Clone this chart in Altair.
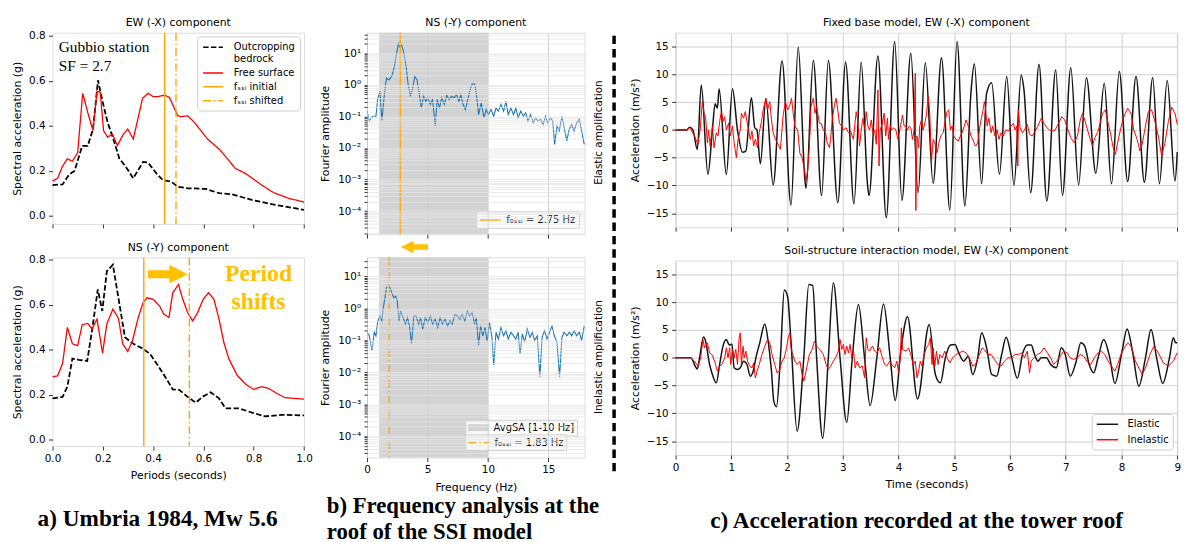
import altair as alt
import pandas as pd

FONT = "DejaVu Sans"
SERIF = "Liberation Serif"
GOLD = "#FFC000"
ORANGE = "#FFA500"

# ---------------- (a) response spectra, Gubbio station (period s, SA g) ----------------
period_ticks = [0.0, 0.2, 0.4, 0.6, 0.8, 1.0]
sa_ticks = [0.0, 0.2, 0.4, 0.6, 0.8]
spectra_names = ["Outcropping bedrock", "Free surface", "fₛₛᵢ initial", "fₛₛᵢ shifted"]

ew_bedrock = [[0, 0.136], [0.04, 0.139], [0.066, 0.183], [0.088, 0.20], [0.118, 0.31], [0.14, 0.31],
              [0.161, 0.385], [0.181, 0.602], [0.197, 0.517], [0.219, 0.415], [0.242, 0.34], [0.266, 0.253],
              [0.292, 0.217], [0.321, 0.166], [0.36, 0.239], [0.38, 0.236], [0.413, 0.188], [0.439, 0.158],
              [0.472, 0.151], [0.498, 0.129], [0.537, 0.122], [0.609, 0.119], [0.662, 0.10], [0.714, 0.095],
              [0.793, 0.07], [0.872, 0.051], [1.0, 0.026]]
ew_surface = [[0, 0.154], [0.02, 0.166], [0.04, 0.22], [0.059, 0.253], [0.079, 0.242], [0.10, 0.28],
              [0.12, 0.544], [0.14, 0.459], [0.161, 0.378], [0.177, 0.554], [0.19, 0.547], [0.203, 0.378],
              [0.219, 0.349], [0.238, 0.363], [0.258, 0.312], [0.282, 0.363], [0.299, 0.385], [0.321, 0.341],
              [0.341, 0.437], [0.358, 0.522], [0.38, 0.544], [0.40, 0.529], [0.419, 0.529], [0.446, 0.536],
              [0.465, 0.525], [0.498, 0.444], [0.511, 0.44], [0.537, 0.444], [0.564, 0.415], [0.616, 0.341],
              [0.668, 0.29], [0.727, 0.21], [0.767, 0.188], [0.832, 0.136], [0.878, 0.103], [0.937, 0.078],
              [1.0, 0.06]]
ns_bedrock = [[0, 0.183], [0.04, 0.19], [0.059, 0.235], [0.079, 0.36], [0.105, 0.355], [0.138, 0.35],
              [0.157, 0.484], [0.18, 0.668], [0.198, 0.572], [0.216, 0.749], [0.24, 0.778], [0.262, 0.631],
              [0.288, 0.455], [0.321, 0.426], [0.36, 0.404], [0.387, 0.382], [0.419, 0.33], [0.452, 0.272],
              [0.478, 0.223], [0.505, 0.22], [0.537, 0.19], [0.57, 0.164], [0.596, 0.19], [0.629, 0.21],
              [0.662, 0.183], [0.688, 0.139], [0.74, 0.139], [0.793, 0.12], [0.845, 0.103], [0.911, 0.11],
              [1.0, 0.107]]
ns_surface = [[0, 0.279], [0.02, 0.283], [0.04, 0.338], [0.059, 0.499], [0.079, 0.426], [0.10, 0.418],
              [0.118, 0.511], [0.14, 0.517], [0.157, 0.492], [0.177, 0.536], [0.199, 0.385], [0.216, 0.514],
              [0.24, 0.58], [0.262, 0.54], [0.279, 0.426], [0.299, 0.392], [0.318, 0.44], [0.341, 0.543],
              [0.36, 0.609], [0.376, 0.631], [0.40, 0.624], [0.426, 0.594], [0.442, 0.558], [0.463, 0.543],
              [0.478, 0.653], [0.501, 0.69], [0.518, 0.624], [0.537, 0.565], [0.557, 0.528], [0.577, 0.565],
              [0.599, 0.624], [0.62, 0.653], [0.642, 0.624], [0.662, 0.536], [0.681, 0.433], [0.701, 0.36],
              [0.734, 0.286], [0.767, 0.247], [0.799, 0.223], [0.832, 0.235], [0.858, 0.228], [0.891, 0.206],
              [0.924, 0.186], [1.0, 0.18]]
fssi_ew = [0.446, 0.491]   # initial, shifted
fssi_ns = [0.363, 0.544]
site_text = ["Gubbio station", "SF = 2.7"]
shift_text = ["Period", "shifts"]

# ---------------- (b) Fourier amplitude spectra at the roof (Hz, amplitude) ----------------
freq_ticks = [0, 5, 10, 15]
avgsa_band = [1.0, 10.0]
f0ssi_elastic = 2.75
f0ssi_inelastic = 1.83
fas_elastic = [[0, 0.148], [0.19, 0.072], [0.46, 0.102], [0.74, 0.102], [0.87, 0.347], [1.06, 0.631],
               [1.23, 0.072], [1.42, 0.437], [1.61, 1.66], [1.82, 1.45], [2.04, 1.86], [2.23, 3.39],
               [2.42, 8.9], [2.59, 20.4], [2.70, 16.2], [2.86, 19.1], [3.05, 10.0], [3.24, 3.8], [3.40, 1.02],
               [3.59, 0.437], [3.78, 0.794], [3.95, 1.86], [4.14, 1.45], [4.33, 0.49], [4.49, 0.186],
               [4.68, 0.437], [4.87, 0.302], [5.04, 0.389], [5.23, 0.24], [5.42, 0.347], [5.64, 0.05],
               [5.80, 0.347], [5.99, 0.186], [6.18, 0.389], [6.40, 0.24], [6.59, 0.49], [6.78, 0.347],
               [7.00, 0.437], [7.19, 0.389], [7.41, 0.49], [7.60, 0.302], [7.76, 0.49], [7.95, 0.24],
               [8.14, 0.166], [8.30, 0.302], [8.49, 0.631], [8.69, 1.07], [8.90, 1.07], [9.04, 0.55],
               [9.23, 0.115], [9.45, 0.269], [9.67, 0.091], [9.86, 0.166], [10.05, 0.115], [10.26, 0.166],
               [10.48, 0.102], [10.67, 0.186], [10.86, 0.148], [11.08, 0.24], [11.30, 0.148], [11.49, 0.302],
               [11.68, 0.115], [11.90, 0.186], [12.12, 0.115], [12.31, 0.186], [12.50, 0.091], [12.71, 0.148],
               [12.93, 0.102], [13.12, 0.132], [13.31, 0.072], [13.53, 0.115], [13.75, 0.063], [13.94, 0.091],
               [14.13, 0.072], [14.35, 0.081], [14.57, 0.056], [14.76, 0.102], [14.95, 0.063], [15.17, 0.091],
               [15.36, 0.072], [15.52, 0.013], [15.71, 0.05], [15.90, 0.035], [16.12, 0.102], [16.31, 0.044],
               [16.53, 0.017], [16.72, 0.039], [16.93, 0.056], [17.13, 0.035], [17.34, 0.063], [17.56, 0.081],
               [17.75, 0.035], [17.97, 0.013]]
fas_inelastic = [[0, 0.178], [0.19, 0.138], [0.41, 0.048], [0.6, 0.178], [0.74, 0.138], [0.87, 0.363],
                 [1.06, 0.575], [1.23, 0.407], [1.33, 0.933], [1.5, 2.4], [1.61, 4.68], [1.82, 4.9],
                 [1.96, 3.89], [2.1, 2.69], [2.23, 2.14], [2.37, 2.4], [2.5, 1.7], [2.64, 0.407], [2.78, 0.832],
                 [2.97, 0.513], [3.19, 0.324], [3.35, 0.513], [3.51, 0.282], [3.68, 0.078], [3.87, 0.575],
                 [4.06, 0.575], [4.27, 0.324], [4.44, 0.513], [4.6, 0.224], [4.82, 0.513], [5.04, 0.363],
                 [5.23, 0.575], [5.42, 0.324], [5.64, 0.457], [5.85, 0.251], [6.04, 0.513], [6.23, 0.324],
                 [6.45, 0.457], [6.67, 0.282], [6.86, 0.407], [7.05, 0.324], [7.27, 0.646], [7.49, 0.575],
                 [7.68, 0.457], [7.87, 0.646], [8.09, 0.407], [8.3, 0.832], [8.49, 0.575], [8.69, 0.741],
                 [8.9, 0.324], [9.04, 0.513], [9.23, 0.069], [9.39, 0.282], [9.58, 0.138], [9.77, 0.251],
                 [9.94, 0.087], [10.13, 0.363], [10.32, 0.138], [10.48, 0.017], [10.67, 0.178], [10.86, 0.11],
                 [11.08, 0.251], [11.3, 0.138], [11.49, 0.2], [11.68, 0.11], [11.9, 0.178], [12.12, 0.138],
                 [12.31, 0.11], [12.5, 0.178], [12.66, 0.038], [12.85, 0.158], [13.04, 0.087], [13.26, 0.224],
                 [13.48, 0.123], [13.67, 0.178], [13.86, 0.098], [14.08, 0.138], [14.3, 0.0072], [14.48, 0.123],
                 [14.68, 0.2], [14.89, 0.11], [15.11, 0.178], [15.3, 0.282], [15.49, 0.138], [15.71, 0.087],
                 [15.93, 0.0072], [16.12, 0.123], [16.31, 0.178], [16.53, 0.138], [16.74, 0.178], [16.93, 0.138],
                 [17.13, 0.2], [17.34, 0.138], [17.56, 0.178], [17.75, 0.098], [17.97, 0.282]]

# ---------------- (c) roof acceleration time histories (s, m/s2) ----------------
time_ticks = [0, 1, 2, 3, 4, 5, 6, 7, 8, 9]
acc_ticks = [-15, -10, -5, 0, 5, 10, 15]
fixed_elastic = [[0, 0], [0.2, 0], [0.25, 0.5], [0.31, 0], [0.39, -3.5], [0.46, 8.1], [0.58, -8.0], [0.66, 0],
                 [0.71, 4.7], [0.75, 3.9], [0.78, 7.4], [0.91, -8.0], [1.02, 7.4], [1.11, 0], [1.2, -4.0],
                 [1.26, -3.8], [1.36, 5.8], [1.42, 0.4], [1.46, 0], [1.52, -6.1], [1.62, 5.6], [1.75, -9.9],
                 [1.91, 12.4], [2.07, -13.5], [2.2, 14.9], [2.32, -9.0], [2.34, -10.5], [2.47, 12.5],
                 [2.62, -11.8], [2.74, 12.5], [2.91, -13.1], [3.05, 12.2], [3.2, -13.3], [3.33, 12.2],
                 [3.44, -9.5], [3.47, -11.8], [3.63, 13.3], [3.78, -15.8], [3.93, 15.9], [4.06, -12.7],
                 [4.22, 13.8], [4.35, -11.3], [4.48, 12.1], [4.62, -9.6], [4.77, 13.0], [4.92, -14.4],
                 [5.05, 15.9], [5.19, -13.7], [5.3, 6.9], [5.36, 11.9], [5.49, -9.7], [5.58, 6.6], [5.67, 8.5],
                 [5.81, -8.0], [5.94, 9.6], [6.07, -10.0], [6.2, 9.9], [6.25, 7.2], [6.37, -11.3], [6.52, 11.8],
                 [6.66, -12.8], [6.82, 10.8], [6.94, -11.8], [7.09, 11.2], [7.23, -9.9], [7.37, 9.4],
                 [7.54, -7.8], [7.69, 8.4], [7.82, -9.7], [7.96, 10.5], [8.11, -9.3], [8.26, 9.6], [8.41, -9.4],
                 [8.56, 9.4], [8.68, -9.7], [8.82, 8.9], [8.96, -9.2], [9.0, -4.0]]
fixed_inelastic = [[0, 0], [0.2, 0], [0.25, 0.5], [0.34, -1.1], [0.4, -2.6], [0.44, 0], [0.48, 5.1], [0.51, 3.0],
                   [0.54, 2.1], [0.57, -2.3], [0.59, 0], [0.62, -2.9], [0.66, 0.7], [0.69, -3.2], [0.73, -0.5],
                   [0.76, -1.1], [0.79, 1.5], [0.82, 3.3], [0.85, 1.5], [0.88, 2.4], [0.91, 0], [0.95, 1.2],
                   [0.98, -1.1], [1.02, 0.7], [1.05, -2.3], [1.09, -5.0], [1.12, -1.7], [1.16, 0], [1.18, 3.0],
                   [1.22, 2.1], [1.25, 3.3], [1.28, 1.5], [1.31, 0], [1.34, -1.7], [1.37, -0.2], [1.4, -2.9],
                   [1.43, -1.7], [1.47, -3.2], [1.5, -0.5], [1.54, 1.5], [1.57, 3.6], [1.62, 5.7], [1.65, 3.6],
                   [1.69, 5.1], [1.72, 1.8], [1.75, -0.5], [1.79, -1.7], [1.84, -2.6], [1.88, -3.5], [1.93, 2.7],
                   [1.97, 5.1], [2.01, 3.6], [2.05, 4.5], [2.08, 5.7], [2.11, 3.0], [2.14, 0.7], [2.19, 0],
                   [2.23, -4.2], [2.27, -5.0], [2.31, -7.1], [2.34, -9.2], [2.37, -7.1], [2.4, -2.9], [2.43, 4.2],
                   [2.47, 5.7], [2.5, 3.0], [2.53, 4.2], [2.58, 1.2], [2.61, 1.2], [2.65, 0], [2.69, -0.5],
                   [2.72, -2.3], [2.76, -3.2], [2.78, -1.7], [2.81, 1.8], [2.85, 4.5], [2.88, 5.7], [2.91, 3.6],
                   [2.94, 1.2], [2.98, 0.7], [3.01, 0], [3.06, 0.4], [3.1, -0.5], [3.14, -0.2], [3.19, -1.7],
                   [3.21, 0.4], [3.24, 3.3], [3.27, 1.5], [3.3, -2.9], [3.33, 0], [3.36, 2.1], [3.39, 0],
                   [3.42, 3.3], [3.45, 0.7], [3.48, 0], [3.51, 1.8], [3.54, -0.5], [3.57, 0], [3.6, -2.6],
                   [3.63, 7.2], [3.65, -6.5], [3.67, 0], [3.71, 1.2], [3.74, 3.0], [3.77, -1.1], [3.8, 2.1],
                   [3.82, -1.7], [3.85, 0.7], [3.88, 0], [3.91, 0.4], [3.95, 0], [3.99, -1.7], [4.03, 0.4],
                   [4.07, 2.7], [4.1, 0.7], [4.13, 0.7], [4.16, 0], [4.19, 0.7], [4.22, 0.4], [4.25, -1.7],
                   [4.28, 0], [4.3, 10.2], [4.31, -14.5], [4.33, -1.1], [4.36, -3.2], [4.38, 0.7], [4.41, 1.8],
                   [4.44, 0], [4.47, 1.2], [4.5, 2.7], [4.53, 6.0], [4.56, 3.0], [4.59, -5.9], [4.62, -1.7],
                   [4.65, -2.3], [4.69, -4.1], [4.73, -2.0], [4.77, -0.8], [4.8, -0.5], [4.84, 1.8], [4.87, 3.3],
                   [4.9, 3.6], [4.93, 0], [4.96, 0.7], [4.99, -1.1], [5.03, -1.7], [5.07, -2.0], [5.11, -1.1],
                   [5.14, -0.5], [5.18, 0.7], [5.21, 1.8], [5.26, 0.4], [5.3, -1.1], [5.33, -1.7], [5.38, -2.9],
                   [5.42, -2.3], [5.46, 0.7], [5.51, 3.3], [5.54, 5.1], [5.56, 3.9], [5.59, 0.7], [5.62, 2.1],
                   [5.66, -0.5], [5.69, 0.7], [5.73, -1.1], [5.77, 0], [5.8, -1.7], [5.84, -0.5], [5.88, -1.1],
                   [5.92, 0], [5.97, -0.2], [6.02, 0.7], [6.06, 1.2], [6.09, 0], [6.12, 0.7], [6.14, -6.5],
                   [6.15, 3.6], [6.18, 0.4], [6.22, -0.5], [6.26, 0], [6.31, 1.0], [6.35, -0.8], [6.4, -1.1],
                   [6.45, -0.2], [6.5, 0.7], [6.56, 2.1], [6.61, 1.2], [6.66, 0.4], [6.71, 0], [6.77, -0.2],
                   [6.81, 0], [6.87, 1.2], [6.93, 2.4], [6.98, 1.8], [7.04, 0], [7.09, -1.4], [7.15, -2.3],
                   [7.21, -1.1], [7.26, 1.8], [7.3, 3.0], [7.34, 1.8], [7.39, 0], [7.44, -1.7], [7.48, -2.9],
                   [7.52, -1.4], [7.57, -0.5], [7.61, 1.0], [7.66, 3.0], [7.71, 3.6], [7.76, 1.2], [7.8, -0.5],
                   [7.85, -3.2], [7.89, -4.4], [7.93, -2.3], [7.98, 0], [8.03, 2.1], [8.07, 3.0], [8.11, 3.9],
                   [8.17, 3.0], [8.22, 0], [8.28, -1.7], [8.33, -3.8], [8.37, -2.6], [8.43, 0.7], [8.48, 3.3],
                   [8.54, 3.6], [8.6, 1.5], [8.66, -1.1], [8.72, -4.7], [8.78, -2.3], [8.84, 1.5], [8.9, 4.1],
                   [8.96, 3.0], [9.0, 1.0]]
ssi_elastic = [[0, 0], [0.27, 0], [0.39, -2.0], [0.43, 0], [0.5, 3.75], [0.53, 3.3], [0.61, -1.2], [0.67, -3.3],
               [0.73, -4.5], [0.79, -1.2], [0.85, 2.1], [0.91, 3.3], [0.95, 2.5], [0.98, 2.3], [1.01, 2.5],
               [1.05, -1.8], [1.11, -2.1], [1.16, -1.8], [1.22, -0.6], [1.28, -1.2], [1.34, -3.3], [1.4, -2.1],
               [1.44, 0], [1.51, 2.7], [1.6, 6.1], [1.66, 3.0], [1.72, -2.4], [1.76, -7.7], [1.81, -8.8],
               [1.88, 0], [1.95, 12.2], [2.01, 11.0], [2.07, 3.0], [2.18, -13.2], [2.3, 0], [2.39, 13.2],
               [2.46, 13.0], [2.53, 0], [2.64, -14.5], [2.74, 0], [2.83, 13.5], [2.95, 0], [3.07, -11.6],
               [3.17, 0], [3.28, 9.6], [3.39, 0], [3.49, -8.6], [3.61, 0], [3.73, 9.7], [3.85, 0], [3.94, -7.7],
               [4.04, 1.2], [4.16, 7.4], [4.34, -7.4], [4.55, 6.0], [4.66, -3.0], [4.75, -4.5], [4.84, 0],
               [4.93, 2.3], [5.01, 2.4], [5.08, 0.9], [5.17, -0.6], [5.25, 0.3], [5.33, -3.0], [5.42, 0],
               [5.49, 4.5], [5.58, 1.8], [5.67, -3.0], [5.76, -3.3], [5.85, 0.6], [5.93, 3.7], [6.03, 0],
               [6.13, -3.7], [6.23, 0.9], [6.31, 2.3], [6.38, 2.3], [6.44, 0.6], [6.5, -0.6], [6.56, 0],
               [6.65, 0], [6.73, -1.2], [6.83, -1.8], [6.92, 1.8], [6.99, 0.6], [7.08, -3.3], [7.18, -0.9],
               [7.27, 2.7], [7.34, 2.1], [7.42, -1.2], [7.5, -2.7], [7.58, 0], [7.68, 3.3], [7.79, 0],
               [7.88, -4.6], [8.01, 1.2], [8.1, 5.2], [8.2, 1.0], [8.31, -5.1], [8.43, 0], [8.53, 5.1],
               [8.63, 0], [8.74, -4.6], [8.86, 0], [8.93, 3.6], [8.97, 2.7], [9.0, 2.7]]
ssi_inelastic = [[0, 0], [0.27, 0], [0.34, -0.6], [0.4, -1.5], [0.45, 0], [0.49, 3.3], [0.52, 1.8], [0.57, 2.7],
                 [0.61, 0.9], [0.65, 0.6], [0.7, -0.6], [0.75, -2.4], [0.79, -1.5], [0.83, -1.2], [0.88, 0],
                 [0.91, 1.8], [0.94, 0], [0.97, 1.8], [0.99, -1.2], [1.02, 1.5], [1.05, 0], [1.08, 1.5],
                 [1.11, -1.2], [1.14, 3.6], [1.16, 4.5], [1.18, -1.2], [1.21, 2.1], [1.23, 0], [1.26, 1.2],
                 [1.29, -0.6], [1.33, -1.5], [1.37, -1.8], [1.4, -0.9], [1.43, -3.6], [1.46, -2.4], [1.5, -1.2],
                 [1.55, 0.6], [1.6, 2.1], [1.65, 3.3], [1.69, 2.7], [1.73, 0.6], [1.78, -1.2], [1.82, -2.7],
                 [1.86, -2.4], [1.91, -0.6], [1.95, 0], [1.99, 1.8], [2.02, 3.6], [2.05, 4.5], [2.07, 1.8],
                 [2.1, 0.6], [2.14, -0.6], [2.18, -1.2], [2.23, -0.6], [2.27, -3.0], [2.3, -4.2], [2.34, -2.4],
                 [2.37, -0.9], [2.4, 0.6], [2.45, 1.5], [2.49, 3.0], [2.53, 2.1], [2.59, 1.5], [2.65, 0.6],
                 [2.7, -1.2], [2.74, -2.1], [2.78, -1.5], [2.83, -0.6], [2.87, 0], [2.92, 1.2], [2.95, 3.3],
                 [2.98, 1.5], [3.01, 2.4], [3.04, 0.6], [3.07, 2.1], [3.1, 0.9], [3.13, 2.4], [3.16, 0],
                 [3.19, 1.5], [3.22, -1.8], [3.26, -0.6], [3.3, -1.8], [3.35, -1.5], [3.39, -3.6], [3.42, 3.6],
                 [3.45, 1.5], [3.48, 1.2], [3.53, 2.1], [3.57, 1.2], [3.61, 0.9], [3.66, 1.8], [3.71, 0],
                 [3.75, -1.2], [3.79, -1.5], [3.84, -0.6], [3.88, -1.2], [3.93, -1.8], [3.97, -0.6], [4.0, -2.7],
                 [4.03, 0], [4.05, 5.4], [4.07, 1.5], [4.13, 1.2], [4.18, 1.8], [4.22, 0.6], [4.26, -1.2],
                 [4.3, -0.6], [4.33, -3.6], [4.36, -2.4], [4.39, -0.6], [4.42, -1.5], [4.46, 0.6], [4.5, 1.8],
                 [4.54, 2.4], [4.57, 3.6], [4.6, -1.2], [4.62, 1.8], [4.65, -1.5], [4.68, 1.2], [4.71, -1.2],
                 [4.74, 0.6], [4.78, 0], [4.83, 1.2], [4.87, 0], [4.92, -0.9], [4.97, 0], [5.03, 0.6],
                 [5.09, 0.9], [5.15, 1.2], [5.21, 0.9], [5.27, 0], [5.33, -1.5], [5.38, -1.2], [5.44, 0.3],
                 [5.5, 1.8], [5.54, 1.5], [5.6, 0.6], [5.66, 0.6], [5.72, -0.3], [5.78, -1.2], [5.84, -1.5],
                 [5.9, -0.6], [5.96, 0], [6.02, 0], [6.09, 0.6], [6.15, 0.6], [6.21, 0.9], [6.26, 0], [6.31, 1.2],
                 [6.35, -2.7], [6.38, -0.6], [6.43, 0], [6.49, 0.6], [6.55, 0.9], [6.61, 1.8], [6.67, 0.9],
                 [6.73, 0], [6.78, -1.2], [6.84, -0.6], [6.9, 0.3], [6.96, 1.2], [7.02, 0.9], [7.08, 0],
                 [7.14, -0.3], [7.2, 0], [7.26, 0.6], [7.32, 0.3], [7.38, -0.6], [7.45, -1.2], [7.51, 0],
                 [7.58, 0.9], [7.64, 1.2], [7.7, 0.6], [7.76, -0.6], [7.82, -1.5], [7.88, -2.4], [7.93, -1.2],
                 [7.99, 0.6], [8.05, 1.8], [8.11, 2.7], [8.17, 2.1], [8.25, -0.6], [8.37, -3.0], [8.43, -1.8],
                 [8.51, 0.6], [8.58, 2.1], [8.66, 0.9], [8.75, -0.9], [8.84, -1.5], [8.93, -0.6], [8.97, 0.3],
                 [9.0, 0.9]]
response_names = ["Elastic", "Inelastic"]

captions = ["a) Umbria 1984, Mw 5.6",
            ["b) Frequency analysis at the", "roof of the SSI model"],
            "c) Acceleration recorded at the tower roof"]

# ---------------- layout (pixels) ----------------
WA, HA1, HA2 = 254.3, 193.4, 190.7
WB, HB1, HB2 = 220.0, 203.7, 202.6
WC, HC1, HC2 = 507.2, 196.6, 196.6
ARROW_R = "M-1,-0.2L0.08,-0.2L0.08,-0.475L1,0L0.08,0.475L0.08,0.2L-1,0.2Z"
ARROW_L = "M1,-0.2L-0.05,-0.2L-0.05,-0.46L-1,0L-0.05,0.46L-0.05,0.2L1,0.2Z"
LINE_SYM = "M-1,0L3,0"
PATCH_SYM = "M-1,-0.67L3,-0.67L3,0.67L-1,0.67Z"

one = pd.DataFrame({"k": [0]})


def frame(pairs, xn, yn, **const):
    df = pd.DataFrame(pairs, columns=[xn, yn])
    for k, v in const.items():
        df[k] = v
    return df


def axis(**kw):
    base = dict(labelFont=FONT, labelFontSize=10.5, labelColor="black", labelPadding=3.5,
                tickColor="black", tickSize=4, tickWidth=0.8, domain=False, labelFlush=False,
                labelOverlap=False, titleFont=FONT, titleFontSize=11, titleFontWeight="normal",
                titleColor="black", grid=False)
    base.update(kw)
    return alt.Axis(**base)


def legend(x, y, **kw):
    base = dict(title=None, orient="none", legendX=x, legendY=y, labelFont=FONT, labelFontSize=10,
                labelColor="black", padding=4, fillColor="rgba(255,255,255,0.85)", strokeColor="#cccccc",
                cornerRadius=3, symbolType=LINE_SYM, symbolStrokeWidth=1.5, symbolSize=100,
                labelOffset=20, rowPadding=3)
    base.update(kw)
    return alt.Legend(**base)


def text(txt, x, y, **mk):
    return alt.Chart(one).mark_text(**mk).encode(x=alt.value(x), y=alt.value(y), text=alt.value(txt))


def title(txt, w):
    return text(txt, w / 2, -10, font=FONT, fontSize=11, color="black", align="center", baseline="middle")


def bound(left, top, right):
    return alt.Chart(one).mark_rule(opacity=0, strokeWidth=0.01).encode(
        x=alt.value(-left), x2=alt.value(right), y=alt.value(-top))


# ---------------- column a ----------------
xs_a = alt.Scale(domain=[0, 1], nice=False, zero=False)


def xa(labels):
    return alt.X("T:Q", scale=xs_a, axis=axis(values=period_ticks, labels=labels, format=".1f",
                                               title="Periods (seconds)" if labels else None,
                                               titleX=WA / 2, titleY=30, titleBaseline="middle"))


def ya(h, dom):
    return alt.Y("SA:Q", scale=alt.Scale(domain=dom, nice=False, zero=False),
                 axis=axis(values=sa_ticks, format=".1f", title="Spectral acceleration (g)",
                           titleAngle=270, titleX=-35.7, titleY=h / 2, titleAlign="center",
                           titleBaseline="middle"))


leg_a = legend(146.3, 3.7, padding=5, rowPadding=3,
               labelExpr="datum.label == 'Outcropping bedrock' ? ['Outcropping', 'bedrock'] : datum.label")
color_a = alt.Color("series:N", scale=alt.Scale(domain=spectra_names, range=["black", "red", ORANGE, ORANGE]),
                    legend=leg_a)
dash_a = alt.StrokeDash("series:N", scale=alt.Scale(domain=spectra_names,
                                                    range=[[5.5, 2.4], [1, 0], [1, 0], [8, 3, 1.5, 3]]),
                        legend=leg_a)

XA1, YA1 = xa(False), ya(HA1, [-0.0369, 0.8132])
a_top = alt.layer(
    alt.Chart(frame(ew_bedrock, "T", "SA", series=spectra_names[0])).mark_line(strokeWidth=1.8).encode(
        x=XA1, y=YA1, color=color_a, strokeDash=dash_a),
    alt.Chart(frame(ew_surface, "T", "SA", series=spectra_names[1])).mark_line(strokeWidth=1.3).encode(
        x=XA1, y=YA1, color=color_a, strokeDash=dash_a),
    alt.Chart(pd.DataFrame({"T": fssi_ew, "series": spectra_names[2:]})).mark_rule(strokeWidth=1.4).encode(
        x=XA1, color=color_a, strokeDash=dash_a),
    alt.Chart(pd.DataFrame({"T": [0.025, 0.025], "SA": [0.749, 0.665], "txt": site_text})).mark_text(
        font=SERIF, fontSize=15.5, align="left", baseline="middle", color="black").encode(
        x=XA1, y=YA1, text="txt:N"),
    title("EW (-X) component", WA),
    bound(43.7, 21.3, WA + 9),
).properties(width=WA, height=HA1)

XA2, YA2 = xa(True), ya(HA2, [-0.0295, 0.8101])
a_bot = alt.layer(
    alt.Chart(frame(ns_bedrock, "T", "SA")).mark_line(strokeWidth=1.8, color="black",
                                                       strokeDash=[5.5, 2.4]).encode(x=XA2, y=YA2),
    alt.Chart(frame(ns_surface, "T", "SA")).mark_line(strokeWidth=1.3, color="red").encode(x=XA2, y=YA2),
    alt.Chart(pd.DataFrame({"T": fssi_ns[:1]})).mark_rule(strokeWidth=1.4, color=ORANGE).encode(x=XA2),
    alt.Chart(pd.DataFrame({"T": fssi_ns[1:]})).mark_rule(strokeWidth=1.4, color=ORANGE,
                                                          strokeDash=[8, 3, 1.5, 3]).encode(x=XA2),
    alt.Chart(pd.DataFrame({"T": [0.4585], "SA": [0.736]})).mark_point(
        shape=ARROW_R, size=1600, filled=True, color=GOLD, opacity=1, strokeWidth=0).encode(x=XA2, y=YA2),
    alt.Chart(pd.DataFrame({"T": [0.819, 0.819], "SA": [0.735, 0.612], "txt": shift_text})).mark_text(
        font=SERIF, fontSize=24, fontWeight="bold", color=GOLD, align="center", baseline="middle").encode(
        x=XA2, y=YA2, text="txt:N"),
    title("NS (-Y) component", WA),
    text(captions[0], 106.3, 264, font=SERIF, fontSize=23.5, fontWeight="bold", color="black",
         align="center", baseline="middle"),
).properties(width=WA, height=HA2)

# ---------------- column b ----------------
log_ticks_all = [m * 10.0 ** e for e in range(-5, 2) for m in range(1, 10)]
LOG_LABEL = ("abs(datum.value / pow(10, round(log(datum.value) / LN10)) - 1) < 0.01 ? "
             "(round(log(datum.value) / LN10) == -4 ? '10⁻⁴' : round(log(datum.value) / LN10) == -3 ? '10⁻³' : "
             "round(log(datum.value) / LN10) == -2 ? '10⁻²' : round(log(datum.value) / LN10) == -1 ? '10⁻¹' : "
             "round(log(datum.value) / LN10) == 0 ? '10⁰' : round(log(datum.value) / LN10) == 1 ? '10¹' : '') : ''")


def xb(labels):
    return alt.X("f:Q", scale=alt.Scale(domain=[0, 18], nice=False, zero=False),
                 axis=axis(values=freq_ticks, labels=labels, format="d", grid=True, gridColor="#c4c4c4",
                           gridWidth=0.8, zindex=1, title="Frequency (Hz)" if labels else None,
                           titleX=WB / 2, titleY=30, titleBaseline="middle"))


def yb(h, dom):
    vals = [v for v in log_ticks_all if dom[0] <= v <= dom[1]]
    return alt.Y("amp:Q", scale=alt.Scale(type="log", domain=dom, nice=False),
                 axis=axis(values=vals, labelExpr=LOG_LABEL, grid=True, gridColor="#e6e6e6", gridWidth=0.8,
                           zindex=1, tickSize=3, title="Fourier amplitude", titleAngle=270, titleX=-41.7,
                           titleY=h / 2, titleAlign="center", titleBaseline="middle"))


XB1, YB1 = xb(False), yb(HB1, [1.85e-5, 45.5])
leg_b1 = legend(110.3, 180.5, padding=3, symbolSize=110.25, labelOffset=15.5)
b_top = alt.layer(
    alt.Chart(pd.DataFrame({"f": avgsa_band[:1], "f2": avgsa_band[1:]})).mark_rect(color="#d3d3d3").encode(
        x=XB1, x2="f2:Q", y=alt.value(0), y2=alt.value(HB1)),
    alt.Chart(frame(fas_elastic, "f", "amp")).mark_line(strokeWidth=1.1, color="#1f77b4").encode(x=XB1, y=YB1),
    alt.Chart(pd.DataFrame({"f": [f0ssi_elastic], "leg": ["f₀ₛₛᵢ = 2.75 Hz"]})).mark_rule(strokeWidth=1.4).encode(
        x=XB1, color=alt.Color("leg:N", scale=alt.Scale(domain=["f₀ₛₛᵢ = 2.75 Hz"], range=[ORANGE]),
                               legend=leg_b1)),
    title("NS (-Y) component", WB),
    text("Elastic amplification", 235, 101, font=FONT, fontSize=10.5, angle=270, color="black",
         align="center", baseline="middle"),
    alt.Chart(one).mark_rule(color="black", strokeWidth=3.5, strokeDash=[8.5, 5]).encode(
        x=alt.value(249.8), y=alt.value(3), y2=alt.value(446)),
    bound(52.7, 16, WB + 33),
).properties(width=WB, height=HB1)

XB2, YB2 = xb(True), yb(HB2, [2.14e-5, 39.6])
span_name = "AvgSA [1-10 Hz]"
f0_name = "f₀ₛₛᵢ = 1.83 Hz" + "\u00a0" * 8
leg_b2 = legend(99.3, 179.1, padding=2.5, symbolSize=110.25, labelOffset=15.2, cornerRadius=0)
b_bot = alt.layer(
    alt.Chart(pd.DataFrame({"f": avgsa_band[:1], "f2": avgsa_band[1:], "span": [span_name]})).mark_rect().encode(
        x=XB2, x2="f2:Q", y=alt.value(0), y2=alt.value(HB2),
        fill=alt.Fill("span:N", scale=alt.Scale(domain=[span_name], range=["#d3d3d3"]),
                      legend=legend(99.3, 164.3, padding=2.5, symbolSize=110.25, labelOffset=15.2,
                                    symbolType=PATCH_SYM, symbolStrokeWidth=0, cornerRadius=0))),
    alt.Chart(frame(fas_inelastic, "f", "amp")).mark_line(strokeWidth=1.1, color="#1f77b4").encode(x=XB2, y=YB2),
    alt.Chart(pd.DataFrame({"f": [f0ssi_inelastic], "leg": [f0_name]})).mark_rule(strokeWidth=1.4).encode(
        x=XB2,
        color=alt.Color("leg:N", scale=alt.Scale(domain=[f0_name], range=[ORANGE]), legend=leg_b2),
        strokeDash=alt.StrokeDash("leg:N", scale=alt.Scale(domain=[f0_name], range=[[8, 3, 1.5, 3]]),
                                  legend=leg_b2)),
    alt.Chart(pd.DataFrame({"f": [3.91]})).mark_point(
        shape=ARROW_L, size=762, filled=True, color=GOLD, opacity=1, strokeWidth=0).encode(
        x=XB2, y=alt.value(-10.4)),
    text("Inelastic amplification", 235, 101, font=FONT, fontSize=10.5, angle=270, color="black",
         align="center", baseline="middle"),
    text(captions[1], -40.7, 251.3, font=SERIF, fontSize=23, fontWeight="bold", color="black",
         align="left", baseline="middle", lineHeight=26.5),
).properties(width=WB, height=HB2)

# ---------------- column c ----------------


def xc(labels):
    return alt.X("t:Q", scale=alt.Scale(domain=[0, 9], nice=False, zero=False),
                 axis=axis(values=time_ticks, labels=labels, format="d", grid=True, gridColor="#d0d0d0",
                           gridWidth=1, title="Time (seconds)" if labels else None,
                           titleX=WC / 2, titleY=30, titleBaseline="middle"))


def yc(h):
    return alt.Y("a:Q", scale=alt.Scale(domain=[-17.5, 17.5], nice=False, zero=False),
                 axis=axis(values=acc_ticks, labelExpr="replace(datum.label, '-', '\u2212')", grid=True,
                           gridColor="#d0d0d0", gridWidth=1, title="Acceleration (m/s²)", titleAngle=270,
                           titleX=-41, titleY=h / 2, titleAlign="center", titleBaseline="middle"))


XC1, YC1 = xc(False), yc(HC1)
c_top = alt.layer(
    alt.Chart(frame(fixed_elastic, "t", "a")).mark_line(strokeWidth=1.5, color="#141414",
                                                         interpolate="monotone").encode(x=XC1, y=YC1),
    alt.Chart(frame(fixed_inelastic, "t", "a")).mark_line(strokeWidth=1.0, color="red").encode(x=XC1, y=YC1),
    title("Fixed base model, EW (-X) component", WC),
    bound(56.6, 18.7, WC + 4),
).properties(width=WC, height=HC1)

XC2, YC2 = xc(True), yc(HC2)
color_c = alt.Color("series:N", scale=alt.Scale(domain=response_names, range=["#141414", "red"]),
                    legend=legend(420.7, 155, padding=4, symbolSize=116.6, labelOffset=19.2, rowPadding=3.6))
c_bot = alt.layer(
    alt.Chart(frame(ssi_elastic, "t", "a", series=response_names[0])).mark_line(
        strokeWidth=1.5, interpolate="monotone").encode(x=XC2, y=YC2, color=color_c),
    alt.Chart(frame(ssi_inelastic, "t", "a", series=response_names[1])).mark_line(strokeWidth=1.0).encode(
        x=XC2, y=YC2, color=color_c),
    title("Soil-structure interaction model, EW (-X) component", WC),
    text(captions[2], 243.7, 263.3, font=SERIF, fontSize=23.5, fontWeight="bold", color="black",
         align="center", baseline="middle"),
).properties(width=WC, height=HC2)

IND = dict(color="independent", strokeDash="independent", fill="independent")
col_a = alt.vconcat(a_top, a_bot, spacing=33.3, bounds="flush").resolve_scale(**IND).resolve_legend(**IND)
col_b = alt.vconcat(b_top, b_bot, spacing=23.0, bounds="flush").resolve_scale(**IND).resolve_legend(**IND)
col_c = alt.vconcat(c_top, c_bot, spacing=33.4, bounds="flush").resolve_scale(**IND).resolve_legend(**IND)

chart = alt.hconcat(col_a, col_b, col_c, spacing=0, padding=0, background="white").resolve_scale(
    **IND).resolve_legend(**IND).configure_view(stroke="black", strokeWidth=0.8).configure(font=FONT)

chart.save("out.html", embed_options={"renderer": "svg", "actions": False})
